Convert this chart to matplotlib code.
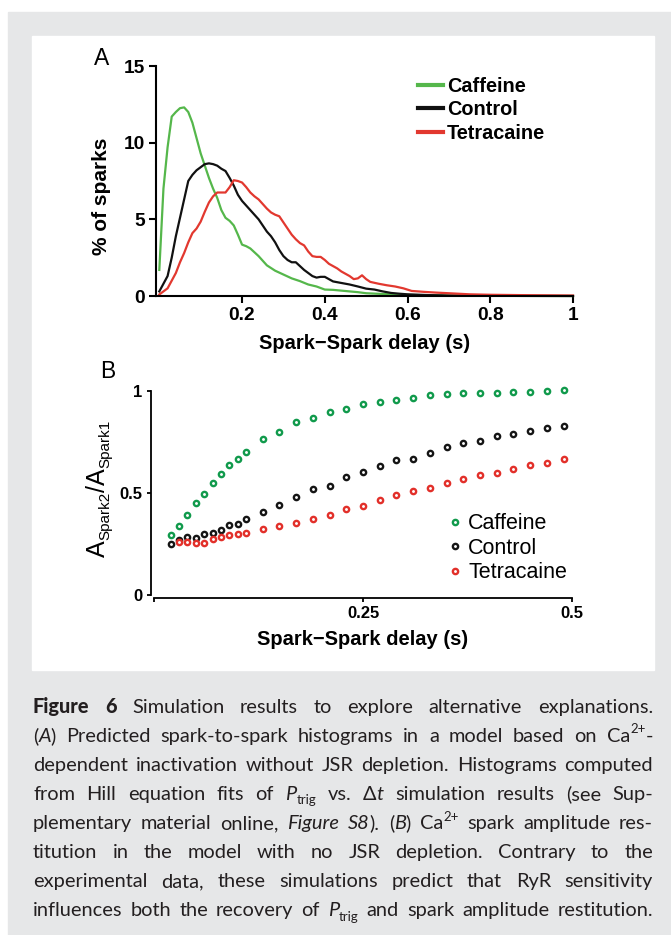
import re

import matplotlib
matplotlib.use("Agg")
import matplotlib.pyplot as plt  # noqa: E402
from matplotlib.patches import Rectangle  # noqa: E402
from matplotlib.transforms import IdentityTransform  # noqa: E402

plt.rcParams["font.family"] = ["Liberation Sans", "DejaVu Sans"]

W, H = 671, 935
GREY = "#e6e7e8"

# ---- Panel A: spark-to-spark delay histograms (% of sparks) ----
caf_delay = [0, 0.01, 0.02, 0.03, 0.04, 0.05, 0.06, 0.07, 0.08, 0.09, 0.10, 0.11, 0.12,
             0.13, 0.14, 0.15, 0.16, 0.17, 0.18, 0.19, 0.20, 0.21, 0.22, 0.23, 0.24, 0.26,
             0.28, 0.30, 0.32, 0.34, 0.36, 0.38, 0.40, 0.42, 0.44, 0.46, 0.48, 0.50, 0.55,
             0.60, 0.70, 0.80, 1.0]
caf_pct = [1.7, 7.0, 9.7, 11.7, 12.0, 12.25, 12.3, 12.0, 11.3, 10.3, 9.3, 8.5, 7.7,
           7.0, 6.4, 5.6, 5.1, 4.9, 4.6, 4.0, 3.35, 3.25, 3.1, 2.85, 2.6, 2.0,
           1.65, 1.4, 1.15, 0.97, 0.75, 0.62, 0.42, 0.4, 0.35, 0.3, 0.25, 0.18, 0.12,
           0.07, 0.03, 0.01, 0.0]

ctl_delay = [0, 0.01, 0.02, 0.03, 0.04, 0.05, 0.06, 0.07, 0.08, 0.09, 0.10, 0.11, 0.12,
             0.13, 0.14, 0.15, 0.16, 0.17, 0.18, 0.19, 0.20, 0.21, 0.22, 0.23, 0.24, 0.25,
             0.26, 0.27, 0.28, 0.29, 0.30, 0.31, 0.32, 0.33, 0.34, 0.35, 0.36, 0.37, 0.38,
             0.39, 0.40, 0.41, 0.42, 0.44, 0.46, 0.48, 0.50, 0.52, 0.54, 0.56, 0.58, 0.60,
             0.65, 0.70, 0.80, 1.0]
ctl_pct = [0.3, 0.8, 1.3, 2.5, 3.9, 5.1, 6.3, 7.5, 7.9, 8.2, 8.4, 8.6, 8.65,
           8.6, 8.5, 8.3, 8.15, 7.7, 7.2, 6.6, 6.2, 5.9, 5.6, 5.3, 5.0, 4.6,
           4.2, 3.9, 3.5, 3.0, 2.6, 2.35, 2.2, 2.2, 1.95, 1.7, 1.5, 1.3, 1.2,
           1.25, 1.25, 1.1, 0.95, 0.85, 0.75, 0.62, 0.48, 0.42, 0.3, 0.2, 0.15, 0.11,
           0.06, 0.03, 0.01, 0.0]

tet_delay = [0, 0.01, 0.02, 0.03, 0.04, 0.05, 0.06, 0.07, 0.08, 0.09, 0.10, 0.11, 0.12,
             0.13, 0.14, 0.15, 0.16, 0.17, 0.18, 0.19, 0.20, 0.21, 0.22, 0.23, 0.24, 0.25,
             0.26, 0.27, 0.28, 0.29, 0.30, 0.31, 0.32, 0.33, 0.34, 0.35, 0.36, 0.37, 0.38,
             0.39, 0.40, 0.41, 0.42, 0.43, 0.44, 0.45, 0.46, 0.47, 0.48, 0.49, 0.50, 0.51,
             0.53, 0.55, 0.57, 0.59, 0.61, 0.64, 0.67, 0.70, 0.75, 0.80, 0.90, 1.0]
tet_pct = [0.1, 0.3, 0.5, 1.0, 1.5, 2.2, 2.8, 3.5, 4.1, 4.4, 4.85, 5.5, 6.1,
           6.5, 6.75, 6.75, 6.75, 7.1, 7.55, 7.5, 7.4, 7.1, 6.75, 6.5, 6.3, 6.0,
           5.7, 5.45, 5.3, 5.2, 4.8, 4.4, 4.0, 3.7, 3.45, 3.3, 2.9, 2.6, 2.55,
           2.55, 2.35, 2.1, 1.95, 1.8, 1.6, 1.45, 1.3, 1.1, 1.15, 1.35, 1.1, 0.92,
           0.8, 0.7, 0.62, 0.5, 0.33, 0.27, 0.22, 0.18, 0.11, 0.08, 0.05, 0.03]

# ---- Panel B: amplitude restitution A_spark2 / A_spark1 ----
amp_delay = [0.02, 0.03, 0.04, 0.05, 0.06, 0.07, 0.08, 0.09, 0.10, 0.11, 0.13, 0.15,
             0.17, 0.19, 0.21, 0.23, 0.25, 0.27, 0.29, 0.31, 0.33, 0.35, 0.37, 0.39,
             0.41, 0.43, 0.45, 0.47, 0.49]
caf_amp = [0.294, 0.340, 0.392, 0.449, 0.497, 0.551, 0.593, 0.636, 0.668, 0.699, 0.763,
           0.801, 0.846, 0.869, 0.899, 0.913, 0.935, 0.948, 0.954, 0.967, 0.980, 0.984,
           0.989, 0.990, 0.992, 0.997, 0.997, 1.000, 1.003]
ctl_amp = [0.248, 0.270, 0.286, 0.281, 0.299, 0.306, 0.319, 0.345, 0.348, 0.374, 0.408,
           0.441, 0.482, 0.518, 0.536, 0.577, 0.605, 0.632, 0.662, 0.668, 0.698, 0.724,
           0.747, 0.757, 0.779, 0.789, 0.806, 0.817, 0.830]
tet_amp_delay = amp_delay[1:]
tet_amp = [0.261, 0.261, 0.257, 0.257, 0.273, 0.286, 0.292, 0.299, 0.306, 0.322,
           0.340, 0.351, 0.371, 0.392, 0.420, 0.438, 0.466, 0.490, 0.511, 0.523, 0.551,
           0.567, 0.588, 0.600, 0.616, 0.636, 0.649, 0.665]

labels = ["Caffeine", "Control", "Tetracaine"]
line_colors = ["#55b74b", "#111111", "#e2382f"]
dot_colors = ["#119a4c", "#151515", "#e2302a"]

caption = [
    "**Figure** **6** Simulation results to explore alternative explanations.",
    "(*A*) Predicted spark-to-spark histograms in a model based on Ca^{2+}-",
    "dependent inactivation without JSR depletion. Histograms computed",
    "from Hill equation fits of *P*_{trig} vs. Δ*t* simulation results (see Sup-",
    "plementary material online, *Figure* *S8*). (*B*) Ca^{2+} spark amplitude res-",
    "titution in the model with no JSR depletion. Contrary to the",
    "experimental data, these simulations predict that RyR sensitivity",
    "influences both the recovery of *P*_{trig} and spark amplitude restitution.",
]

fig = plt.figure(figsize=(W / 100, H / 100), dpi=100, facecolor="white")
fig.patches.append(Rectangle((8 / W, 0), (W - 8) / W, (H - 12) / H,
                             transform=fig.transFigure, color=GREY, zorder=-2))
fig.patches.append(Rectangle((32 / W, 1 - 670 / H), (654 - 32) / W, (670 - 36) / H,
                             transform=fig.transFigure, color="white", zorder=-1))

# Panel A
axA = fig.add_axes([156 / W, 1 - 296 / H, 417 / W, 230 / H])
axA.patch.set_alpha(0)
for t, y, c, lab in zip([caf_delay, ctl_delay, tet_delay], [caf_pct, ctl_pct, tet_pct],
                        line_colors, labels):
    axA.plot(t, y, color=c, lw=1.6, label=lab, clip_on=False)
axA.set_xlim(-0.008, 1.0)
axA.set_ylim(0, 15)
axA.set_xticks([0.2, 0.4, 0.6, 0.8, 1.0], ["0.2", "0.4", "0.6", "0.8", "1"])
axA.set_yticks([0, 5, 10, 15])
axA.tick_params(width=1.5, length=5, labelsize=13.8, pad=3)
for s in ["top", "right"]:
    axA.spines[s].set_visible(False)
for s in ["left", "bottom"]:
    axA.spines[s].set_linewidth(1.5)
for lbl in axA.get_xticklabels() + axA.get_yticklabels():
    lbl.set_fontweight("bold")
axA.set_ylabel("% of sparks", fontsize=15, fontweight="bold")
axA.yaxis.set_label_coords(-0.108, 0.435)
axA.set_xlabel("Spark\u2212Spark delay (s)", fontsize=14.5, fontweight="bold")
axA.xaxis.set_label_coords(0.5, -0.165)
axA.legend(loc="upper left", bbox_to_anchor=(0.628, 0.952), frameon=False,
           prop={"weight": "bold", "size": 14.3}, handlelength=1.25,
           handletextpad=0.2, labelspacing=0.22, borderpad=0, borderaxespad=0)
for h in axA.get_legend().get_lines():
    h.set_linewidth(3)
fig.text(102 / W, 1 - 65 / H, "A", fontsize=16.5, ha="center", va="baseline")

# Panel B
axB = fig.add_axes([154 / W, 1 - 595 / H, 418 / W, 204 / H])
axB.patch.set_alpha(0)
for t, y, c, lab in zip([amp_delay, amp_delay, tet_amp_delay], [caf_amp, ctl_amp, tet_amp],
                        dot_colors, labels):
    axB.plot(t, y, ls="none", marker="o", ms=3.8, mew=1.7, mfc="white", mec=c,
             label=lab, clip_on=False)
axB.set_xlim(0, 0.5)
axB.set_ylim(0, 1)
axB.set_xticks([0, 0.25, 0.5], ["", "0.25", "0.5"])
axB.set_yticks([0, 0.5, 1], ["0", "0.5", "1"])
axB.tick_params(width=1.3, length=3, labelsize=12, pad=3)
for s in ["top", "right"]:
    axB.spines[s].set_visible(False)
for s in ["left", "bottom"]:
    axB.spines[s].set_linewidth(1.3)
    axB.spines[s].set_position(("outward", 2.2))
for lbl in axB.get_xticklabels() + axB.get_yticklabels():
    lbl.set_fontweight("bold")
axB.set_xlabel("Spark\u2212Spark delay (s)", fontsize=14.5, fontweight="bold")
axB.xaxis.set_label_coords(0.5, -0.17)
axB.legend(loc="upper left", bbox_to_anchor=(0.70, 0.40), frameon=False,
           prop={"size": 15.5}, handlelength=0.8, handletextpad=0.2,
           labelspacing=0.16, borderpad=0, borderaxespad=0)
fig.text(108 / W, 1 - 378 / H, "B", fontsize=16.5, ha="center", va="baseline")

renderer = fig.canvas.get_renderer()
ident = IdentityTransform()


def text_w(t):
    return t.get_window_extent(renderer).width


# y label of panel B built from pieces (big A, small subscripts), reading upwards
ylab_pieces = [("A", 18, 0), ("Spark2", 11, 4), ("/A", 18, 0), ("Spark1", 11, 4)]
y_cur = H - 557
for s, fs, dx in ylab_pieces:
    t = fig.text(105 + dx, y_cur, s, fontsize=fs, rotation=90, rotation_mode="anchor",
                 ha="left", va="baseline", transform=ident)
    y_cur += t.get_window_extent(renderer).height

# caption, justified between the panel edges
CAP_FAMILY = ["Lato", "DejaVu Sans"]
CAP_FS = 14.4
CAP_LEFT, CAP_RIGHT = 33, 653
SEG_RE = re.compile(r"\*\*(.+?)\*\*|\*(.+?)\*|\^\{(.+?)\}|_\{(.+?)\}|([^*^_]+)")


def make_word(word):
    pieces = []
    for m in SEG_RE.finditer(word):
        bold, ital, sup, sub, plain = m.groups()
        if bold:
            pieces.append((bold, {"weight": "black"}, 1.0, 0.0))
        elif ital:
            pieces.append((ital, {"style": "italic"}, 1.0, 0.0))
        elif sup:
            pieces.append((sup, {}, 0.66, 0.42))
        elif sub:
            pieces.append((sub, {}, 0.66, -0.22))
        else:
            pieces.append((plain, {}, 1.0, 0.0))
    arts = []
    for s, kw, scale, dy in pieces:
        t = fig.text(0, 0, s, fontsize=CAP_FS * scale, family=CAP_FAMILY, color="#231f20",
                     ha="left", va="baseline", transform=ident, **kw)
        arts.append((t, dy))
    return arts


fs_px = CAP_FS * 100 / 72
for i, line in enumerate(caption):
    base = H - (712.7 + 29.1 * i)
    words = [make_word(w) for w in line.split(" ")]
    widths = [sum(text_w(t) for t, _ in arts) for arts in words]
    gap = (CAP_RIGHT - CAP_LEFT - sum(widths)) / (len(words) - 1)
    x = CAP_LEFT
    for arts, wdt in zip(words, widths):
        xx = x
        for t, dy in arts:
            t.set_position((xx, base + dy * fs_px))
            xx += text_w(t)
        x += wdt + gap

fig.savefig("out.png", dpi=100, facecolor="white")
